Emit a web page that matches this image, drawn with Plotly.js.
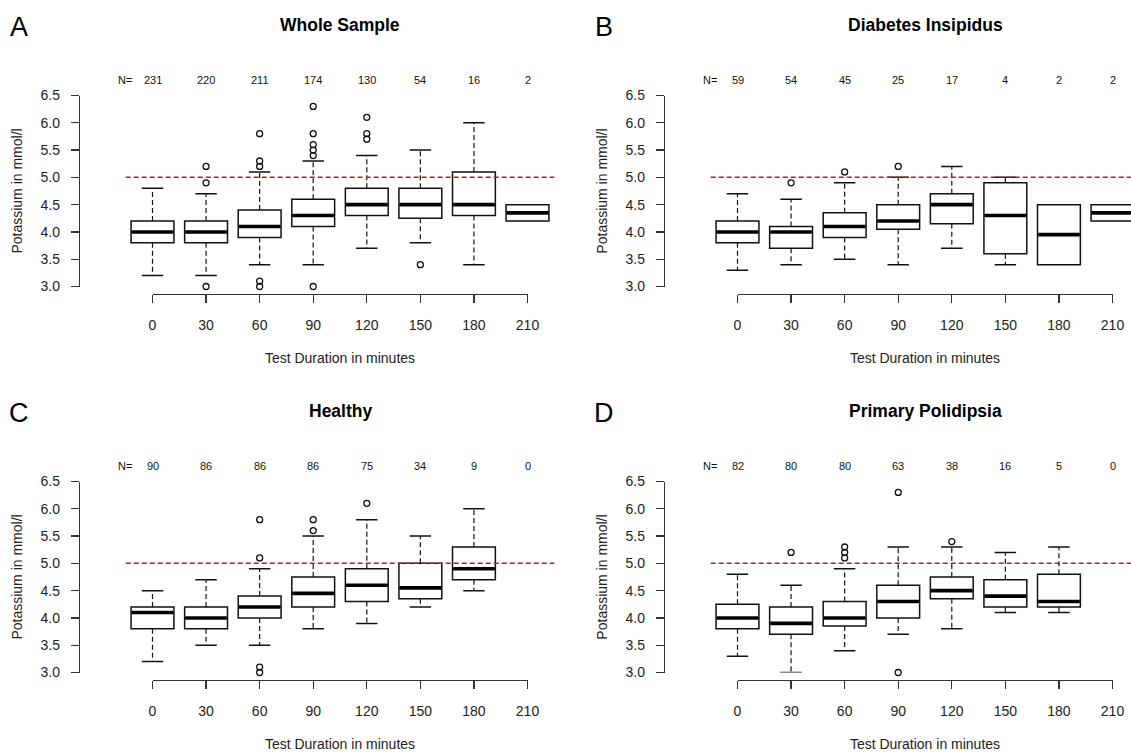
<!DOCTYPE html>
<html><head><meta charset="utf-8">
<script src="https://cdn.plot.ly/plotly-3.0.1.min.js"></script>
<style>html,body{margin:0;padding:0;background:#fff}#chart{width:1131px;height:752px}</style>
</head><body><div id="chart"></div>
<script>
// ---------------- data ----------------
const times = [0, 30, 60, 90, 120, 150, 180, 210];
const tickLabels = ['0', '30', '60', '90', '120', '150', '180', '210'];
const yTicks = [3.0, 3.5, 4.0, 4.5, 5.0, 5.5, 6.0, 6.5];
const panelTitles = ['Whole Sample', 'Diabetes Insipidus', 'Healthy', 'Primary Polidipsia'];
const panelLetters = ['A', 'B', 'C', 'D'];
const refLimit = 5.0;
const refSpan = [-15, 225];

// A: Whole Sample
const nWhole   = [231, 220, 211, 174, 130, 54, 16, 2];
const q1Whole  = [3.8, 3.8, 3.9, 4.1, 4.3, 4.25, 4.3, 4.2];
const medWhole = [4.0, 4.0, 4.1, 4.3, 4.5, 4.5, 4.5, 4.35];
const q3Whole  = [4.2, 4.2, 4.4, 4.6, 4.8, 4.8, 5.1, 4.5];
const loWhole  = [3.2, 3.2, 3.4, 3.4, 3.7, 3.8, 3.4, null];
const hiWhole  = [4.8, 4.7, 5.1, 5.3, 5.4, 5.5, 6.0, null];
const outXWhole = [30, 30, 30, 60, 60, 60, 60, 60, 90, 90, 90, 90, 90, 90, 120, 120, 120, 150];
const outYWhole = [3.0, 4.9, 5.2, 3.0, 3.1, 5.2, 5.3, 5.8, 3.0, 5.4, 5.5, 5.6, 5.8, 6.3, 5.7, 5.8, 6.1, 3.4];

// B: Diabetes Insipidus
const nDI   = [59, 54, 45, 25, 17, 4, 2, 2];
const q1DI  = [3.8, 3.7, 3.9, 4.05, 4.15, 3.6, 3.4, 4.2];
const medDI = [4.0, 4.0, 4.1, 4.2, 4.5, 4.3, 3.95, 4.35];
const q3DI  = [4.2, 4.1, 4.35, 4.5, 4.7, 4.9, 4.5, 4.5];
const loDI  = [3.3, 3.4, 3.5, 3.4, 3.7, 3.4, null, null];
const hiDI  = [4.7, 4.6, 4.9, 5.0, 5.2, 5.0, null, null];
const outXDI = [30, 60, 90];
const outYDI = [4.9, 5.1, 5.2];

// C: Healthy
const nH   = [90, 86, 86, 86, 75, 34, 9, 0];
const q1H  = [3.8, 3.8, 4.0, 4.2, 4.3, 4.35, 4.7, null];
const medH = [4.1, 4.0, 4.2, 4.45, 4.6, 4.55, 4.9, null];
const q3H  = [4.2, 4.2, 4.4, 4.75, 4.9, 5.0, 5.3, null];
const loH  = [3.2, 3.5, 3.5, 3.8, 3.9, 4.2, 4.5, null];
const hiH  = [4.5, 4.7, 4.9, 5.5, 5.8, 5.5, 6.0, null];
const outXH = [60, 60, 60, 60, 90, 90, 120];
const outYH = [3.0, 3.1, 5.1, 5.8, 5.6, 5.8, 6.1];

// D: Primary Polidipsia
const nPP   = [82, 80, 80, 63, 38, 16, 5, 0];
const q1PP  = [3.8, 3.7, 3.85, 4.0, 4.35, 4.2, 4.2, null];
const medPP = [4.0, 3.9, 4.0, 4.3, 4.5, 4.4, 4.3, null];
const q3PP  = [4.25, 4.2, 4.3, 4.6, 4.75, 4.7, 4.8, null];
const loPP  = [3.3, 3.0, 3.4, 3.7, 3.8, 4.1, 4.1, null];
const hiPP  = [4.8, 4.6, 4.9, 5.3, 5.3, 5.2, 5.3, null];
const outXPP = [30, 60, 60, 60, 90, 90, 120];
const outYPP = [5.2, 5.1, 5.2, 5.3, 3.0, 6.3, 5.4];

const panels = [
  {n: nWhole, q1: q1Whole, med: medWhole, q3: q3Whole, lo: loWhole, hi: hiWhole, ox: outXWhole, oy: outYWhole},
  {n: nDI, q1: q1DI, med: medDI, q3: q3DI, lo: loDI, hi: hiDI, ox: outXDI, oy: outYDI},
  {n: nH, q1: q1H, med: medH, q3: q3H, lo: loH, hi: hiH, ox: outXH, oy: outYH},
  {n: nPP, q1: q1PP, med: medPP, q3: q3PP, lo: loPP, hi: hiPP, ox: outXPP, oy: outYPP}
];

// ---------------- geometry (pixels) ----------------
const W = 1131, H = 752;
const PX0 = 152.5;            // px of minute 0 in panel A
const PXMIN = 375 / 210;      // px per minute
const AXL = 80, PR = 560;     // y-axis line px, right edge of data area
const YTOP = 95.5, YBOT = 286.5, XLINE = 294, NY = 80, TITLEY = 25, LETX = 19, LETY = 27, TITLEX = 340;
const offsets = [[0, 0], [585, 0], [0, 386], [585, 386]];
const BOXW = 24, CAPW = 6;
const FONT = 'Arial, "Liberation Sans", sans-serif';
const TXT = '#111';

const traces = [];
const layout = {
  width: W, height: H, margin: {l: 0, r: 0, t: 0, b: 0},
  paper_bgcolor: '#fff', plot_bgcolor: 'rgba(0,0,0,0)',
  showlegend: false, font: {family: FONT, color: TXT, size: 14},
  annotations: []
};

panels.forEach((p, k) => {
  const [dx, dy] = offsets[k];
  const xs = k === 0 ? '' : String(k + 1);
  const xt = String(k + 5);
  const xa = 'x' + xs, ya = 'y' + xs, xta = 'x' + xt;
  const left = AXL + dx, right = Math.min(PR + dx, W);
  const zero = PX0 + dx;

  layout['xaxis' + xs] = {
    domain: [left / W, right / W],
    range: [(left - zero) / PXMIN, (right - zero) / PXMIN],
    visible: false, fixedrange: true
  };
  layout['yaxis' + xs] = {
    domain: [1 - (YBOT + dy) / H, 1 - (YTOP + dy) / H],
    range: [3.0, 6.5], anchor: xa,
    tickvals: yTicks, tickformat: '.1f',
    ticks: 'outside', ticklen: 8, tickwidth: 1.2, tickcolor: '#333',
    showline: true, linecolor: '#333', linewidth: 1.2,
    showgrid: false, zeroline: false, fixedrange: true,
    tickfont: {size: 14, color: '#222'}, ticklabelstandoff: 8,
    title: {text: 'Potassium in mmol/l', font: {size: 14, color: '#222'}, standoff: 14}
  };
  layout['xaxis' + xt] = {
    domain: [zero / W, (zero + 210 * PXMIN) / W],
    range: [0, 210], anchor: 'free', position: 1 - (XLINE + dy) / H,
    tickvals: times, ticktext: tickLabels,
    ticks: 'outside', ticklen: 8, tickwidth: 1.2, tickcolor: '#333',
    showline: true, linecolor: '#333', linewidth: 1.2,
    showgrid: false, zeroline: false, fixedrange: true,
    tickfont: {size: 14, color: '#222'}, ticklabelstandoff: 10,
    title: {text: 'Test Duration in minutes', font: {size: 14, color: '#222'}, standoff: 21}
  };

  // boxes (only groups with data)
  const idx = times.map((t, i) => i).filter(i => p.med[i] !== null);
  traces.push({
    type: 'box', orientation: 'v', xaxis: xa, yaxis: ya,
    x: idx.map(i => times[i]),
    q1: idx.map(i => p.q1[i]), median: idx.map(i => p.med[i]), q3: idx.map(i => p.q3[i]),
    lowerfence: idx.map(i => p.q1[i]), upperfence: idx.map(i => p.q3[i]),
    width: BOXW, whiskerwidth: 0, boxpoints: false,
    fillcolor: '#fff', line: {color: '#111', width: 1.5}, hoverinfo: 'skip'
  });

  // whiskers, caps, medians
  const wx = [], wy = [], cx = [], cy = [], mx = [], my = [];
  idx.forEach(i => {
    const t = times[i];
    if (p.lo[i] !== null) {
      wx.push(t, t, null); wy.push(p.q1[i], p.lo[i], null);
      cx.push(t - CAPW, t + CAPW, null); cy.push(p.lo[i], p.lo[i], null);
    }
    if (p.hi[i] !== null) {
      wx.push(t, t, null); wy.push(p.q3[i], p.hi[i], null);
      cx.push(t - CAPW, t + CAPW, null); cy.push(p.hi[i], p.hi[i], null);
    }
    mx.push(t - BOXW / 2 + 0.4, t + BOXW / 2 - 0.4, null); my.push(p.med[i], p.med[i], null);
  });
  traces.push({type: 'scatter', mode: 'lines', xaxis: xa, yaxis: ya, x: wx, y: wy,
    line: {color: '#111', width: 1.2, dash: '5px,3px'}, hoverinfo: 'skip', connectgaps: false});
  traces.push({type: 'scatter', mode: 'lines', xaxis: xa, yaxis: ya, x: cx, y: cy,
    line: {color: '#111', width: 1.5}, hoverinfo: 'skip', connectgaps: false});
  traces.push({type: 'scatter', mode: 'lines', xaxis: xa, yaxis: ya, x: mx, y: my,
    line: {color: '#000', width: 3.6}, hoverinfo: 'skip', connectgaps: false});
  // outliers
  traces.push({type: 'scatter', mode: 'markers', xaxis: xa, yaxis: ya, x: p.ox, y: p.oy,
    marker: {symbol: 'circle-open', size: 6, color: '#111', line: {width: 1.3, color: '#111'}},
    cliponaxis: false, hoverinfo: 'skip'});
  // reference line at 5.0
  traces.push({type: 'scatter', mode: 'lines', xaxis: xa, yaxis: ya, x: refSpan, y: [refLimit, refLimit],
    line: {color: '#A3262A', width: 1.5, dash: '5px,3px'}, hoverinfo: 'skip'});
  // carrier for the visible time axis
  traces.push({type: 'scatter', mode: 'markers', xaxis: xta, yaxis: ya, x: [times[0], times[times.length - 1]], y: [null, null],
    hoverinfo: 'skip', marker: {opacity: 0}});

  // N labels
  layout.annotations.push({xref: 'paper', yref: 'paper', x: (125 + dx) / W, y: 1 - (NY + dy) / H,
    text: 'N=', showarrow: false, font: {size: 11, color: TXT}, xanchor: 'center', yanchor: 'middle'});
  p.n.forEach((v, i) => {
    layout.annotations.push({xref: xta, yref: 'paper', x: times[i], y: 1 - (NY + dy) / H,
      text: String(v), showarrow: false, font: {size: 11, color: TXT}, xanchor: 'center', yanchor: 'middle'});
  });
  // panel title and letter
  layout.annotations.push({xref: 'paper', yref: 'paper', x: (TITLEX + dx) / W, y: 1 - (TITLEY + dy) / H,
    text: '<b>' + panelTitles[k] + '</b>', showarrow: false, font: {size: 17.5, color: '#000'},
    xanchor: 'center', yanchor: 'middle'});
  layout.annotations.push({xref: 'paper', yref: 'paper', x: (LETX + dx) / W, y: 1 - (LETY + dy) / H,
    text: panelLetters[k], showarrow: false, font: {size: 27, color: '#000'},
    xanchor: 'center', yanchor: 'middle'});
});

Plotly.newPlot('chart', traces, layout, {staticPlot: true, displayModeBar: false});
</script>
</body></html>
